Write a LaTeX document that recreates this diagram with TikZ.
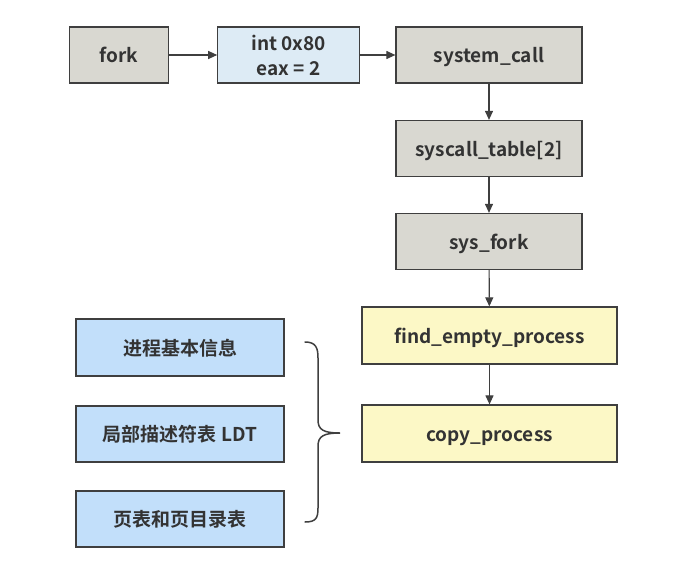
\documentclass[tikz,border=0pt]{standalone}
\usepackage{fontspec}
\setmainfont{Noto Sans CJK SC}[BoldFont={* Bold}]
\usetikzlibrary{arrows.meta,positioning}
\definecolor{grayfill}{HTML}{D9D8D1}
\definecolor{lightblue}{HTML}{DDEBF5}
\definecolor{blue}{HTML}{C2DFFA}
\definecolor{yellowfill}{HTML}{FCF8C6}
\definecolor{edge}{HTML}{3F3F3F}
\definecolor{txt}{HTML}{333333}
\tikzset{
  box/.style={draw=edge, line width=1.2pt, inner sep=0pt, align=center,
    font=\fontsize{19}{25}\selectfont\bfseries, text=txt},
  oneline/.style={box, text height=15pt, text depth=0pt},
  graybox/.style={oneline, fill=grayfill},
  conn/.style={draw=edge, line width=1.1pt, -{Triangle[length=9pt,width=8pt]}},
}
\begin{document}
\begin{tikzpicture}[x=1pt,y=-1pt]
\useasboundingbox (0,0) rectangle (699,578);
\node[graybox, minimum width=99pt, minimum height=56pt] (fork) at (118.8,55) {fork};
\node[box, fill=lightblue, minimum width=142pt, minimum height=56pt] (int) at (288.8,55) {int 0x80\\eax = 2};
\node[graybox, minimum width=186pt, minimum height=56pt] (sys) at (489,55) {system\_call};
\node[graybox, minimum width=186pt, minimum height=56pt] (tab) at (489,148.5) {syscall\_table[2]};
\node[graybox, minimum width=186pt, minimum height=56pt] (sfork) at (489,241.5) {sys\_fork};
\node[oneline, fill=yellowfill, minimum width=255pt, minimum height=57pt] (find) at (489.5,335.5) {find\_empty\_process};
\node[oneline, fill=yellowfill, minimum width=255pt, minimum height=57pt] (copy) at (489.5,433.5) {copy\_process};
\node[oneline, fill=blue, minimum width=208pt, minimum height=57pt] (b1) at (180,347.5) {进程基本信息};
\node[oneline, fill=blue, minimum width=208pt, minimum height=56pt] (b2) at (180,434) {局部描述符表 LDT};
\node[oneline, fill=blue, minimum width=208pt, minimum height=56pt] (b3) at (180,519) {页表和页目录表};
\draw[conn] (fork) -- (int);
\draw[conn] (int) -- (sys);
\draw[conn] (sys) -- (tab);
\draw[conn] (tab) -- (sfork);
\draw[conn] (sfork) -- (find);
\draw[conn] (find) -- (copy);
\draw[draw=edge, line width=1.5pt, line cap=round]
  (305,342) .. controls (316,342) and (318,348) .. (318,358)
  -- (318,420) .. controls (318,430) and (324,433) .. (340,433)
  .. controls (324,433) and (318,436) .. (318,446)
  -- (318,508) .. controls (318,518) and (316,522) .. (305,522);
\end{tikzpicture}
\end{document}
